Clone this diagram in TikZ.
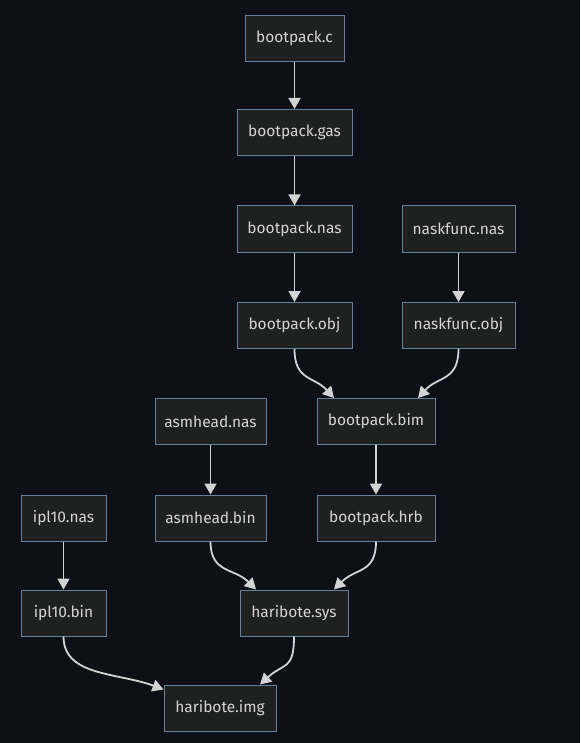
\documentclass[tikz,border=0pt]{standalone}
\usepackage{fontspec}
\setmainfont{Fira Sans}
\usetikzlibrary{arrows.meta}
\definecolor{bg}{HTML}{0D1117}
\definecolor{boxfill}{HTML}{1F2020}
\definecolor{boxline}{HTML}{65809C}
\definecolor{txt}{HTML}{D4D4D4}
\definecolor{edge}{HTML}{D3D3D3}
\begin{document}
\begin{tikzpicture}[x=1pt,y=-1pt,
  file/.style={draw=boxline, fill=boxfill, line width=1pt, text=txt,
    font=\fontsize{15.5}{17}\selectfont, minimum height=46pt, inner sep=0pt},
  flow/.style={draw=edge, line width=1.8pt, -{Triangle[length=11pt,width=12pt]}}]
\fill[bg] (0,0) rectangle (580,743);
\useasboundingbox (0,0) rectangle (580,743);
\node[file, minimum width=99pt]  (bc)  at (294.5,38.5)  {bootpack.c};
\node[file, minimum width=115pt] (bg)  at (294.5,132.5) {bootpack.gas};
\node[file, minimum width=115pt] (bn)  at (294.5,229)   {bootpack.nas};
\node[file, minimum width=113pt] (nn)  at (458.5,229)   {naskfunc.nas};
\node[file, minimum width=115pt] (bo)  at (294.5,325.5) {bootpack.obj};
\node[file, minimum width=113pt] (no)  at (458.5,325.5) {naskfunc.obj};
\node[file, minimum width=111pt] (an)  at (210.5,421.5) {asmhead.nas};
\node[file, minimum width=118pt] (bb)  at (376,421.5)   {bootpack.bim};
\node[file, minimum width=85pt]  (in)  at (63.5,518)    {ipl10.nas};
\node[file, minimum width=111pt] (ab)  at (210.5,518)   {asmhead.bin};
\node[file, minimum width=118pt] (bh)  at (376,518)     {bootpack.hrb};
\node[file, minimum width=85pt]  (ib)  at (63.5,613)    {ipl10.bin};
\node[file, minimum width=108pt] (hs)  at (294,613)     {haribote.sys};
\node[file, minimum width=112pt] (hi)  at (220,708)     {haribote.img};
% straight edges
\draw[flow] (bc) -- (bg);
\draw[flow] (bg) -- (bn);
\draw[flow] (bn) -- (bo);
\draw[flow] (nn) -- (no);
\draw[flow] (an) -- (ab);
\draw[flow] (bb) -- (bh);
\draw[flow] (in) -- (ib);
% curved edges
\draw[flow] (bo.south) .. controls ([yshift=-32pt]bo.south) and ([xshift=-62pt,yshift=22pt]bb.north) .. ([xshift=-42pt]bb.north);
\draw[flow] (no.south) .. controls ([yshift=-32pt]no.south) and ([xshift=62pt,yshift=22pt]bb.north) .. ([xshift=42pt]bb.north);
\draw[flow] (ab.south) .. controls ([yshift=-32pt]ab.south) and ([xshift=-60pt,yshift=22pt]hs.north) .. ([xshift=-38pt]hs.north);
\draw[flow] (bh.south) .. controls ([yshift=-32pt]bh.south) and ([xshift=62pt,yshift=22pt]hs.north) .. ([xshift=40pt]hs.north);
\draw[flow] (ib.south) .. controls ([yshift=-40pt]ib.south) and ([xshift=-45pt,yshift=12pt]hi.north west) .. ([yshift=-5pt]hi.north west);
\draw[flow] (hs.south) .. controls ([yshift=-34pt]hs.south) and ([xshift=64pt,yshift=22pt]hi.north) .. ([xshift=40pt]hi.north);
\end{tikzpicture}
\end{document}
